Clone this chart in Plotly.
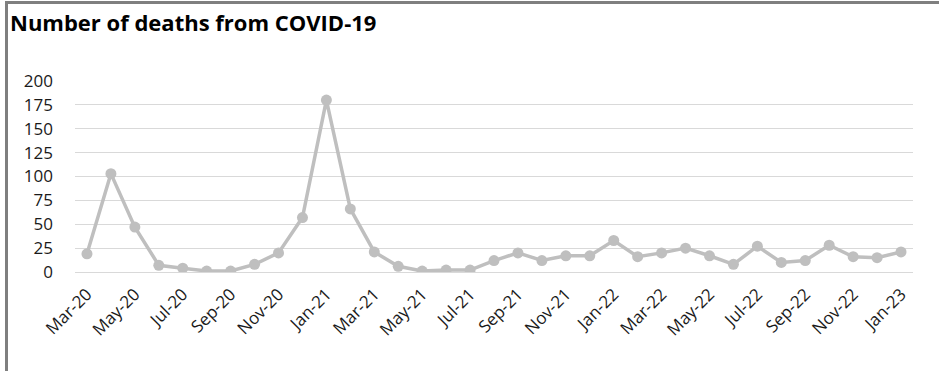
import plotly.graph_objects as go

months = [
    'Mar-20', 'Apr-20', 'May-20', 'Jun-20', 'Jul-20', 'Aug-20', 'Sep-20', 'Oct-20', 'Nov-20', 'Dec-20',
    'Jan-21', 'Feb-21', 'Mar-21', 'Apr-21', 'May-21', 'Jun-21', 'Jul-21', 'Aug-21', 'Sep-21', 'Oct-21',
    'Nov-21', 'Dec-21', 'Jan-22', 'Feb-22', 'Mar-22', 'Apr-22', 'May-22', 'Jun-22', 'Jul-22', 'Aug-22',
    'Sep-22', 'Oct-22', 'Nov-22', 'Dec-22', 'Jan-23',
]

deaths = [
    19, 103, 47, 7, 4, 1, 1, 8, 20, 57,
    180, 66, 21, 6, 1, 2, 2, 12, 20, 12,
    17, 17, 33, 16, 20, 25, 17, 8, 27, 10,
    12, 28, 16, 15, 21,
]

tick_labels = months[::2]
y_ticks = [0, 25, 50, 75, 100, 125, 150, 175, 200]

fig = go.Figure(
    go.Scatter(
        x=months,
        y=deaths,
        mode='lines+markers',
        line=dict(color='#BFBFBF', width=3.5),
        marker=dict(color='#BFBFBF', size=11),
        hoverinfo='x+y',
    )
)

fig.update_layout(
    width=939,
    height=371,
    margin=dict(l=75, r=26, t=81, b=99),
    paper_bgcolor='white',
    plot_bgcolor='white',
    showlegend=False,
    font=dict(family='Open Sans', size=17, color='#1a1a1a'),
    title=dict(
        text='<b>Number of deaths from COVID-19</b>',
        x=10 / 939,
        xanchor='left',
        y=1 - 23 / 371,
        yanchor='middle',
        font=dict(family='Open Sans', size=22, color='#000000'),
    ),
    shapes=[
        dict(type='line', xref='paper', yref='paper',
             x0=(6.5 - 75) / 838, x1=(6.5 - 75) / 838,
             y0=(272 - 1) / 191, y1=(272 - 371) / 191,
             line=dict(color='#7f7f7f', width=3)),
        dict(type='line', xref='paper', yref='paper',
             x0=(5 - 75) / 838, x1=(939 - 75) / 838,
             y0=(272 - 2.5) / 191, y1=(272 - 2.5) / 191,
             line=dict(color='#7f7f7f', width=3)),
    ],
)

fig.update_xaxes(
    type='category',
    range=[-0.5, len(months) - 0.5],
    tickmode='array',
    tickvals=tick_labels,
    ticktext=tick_labels,
    tickangle=-45,
    showgrid=False,
    showline=False,
    ticks='',
    ticklabelstandoff=8,
    tickfont=dict(size=17),
)

fig.update_yaxes(
    range=[0, 200],
    tickvals=y_ticks,
    showgrid=True,
    gridcolor='#D9D9D9',
    gridwidth=1,
    zeroline=True,
    zerolinecolor='#D9D9D9',
    zerolinewidth=1,
    showline=False,
    ticks='',
    ticklabelstandoff=21,
    tickfont=dict(size=17),
)

fig.write_html(
    'out.html',
    config={'displayModeBar': False},
    post_script="document.body.style.margin='0';",
)
